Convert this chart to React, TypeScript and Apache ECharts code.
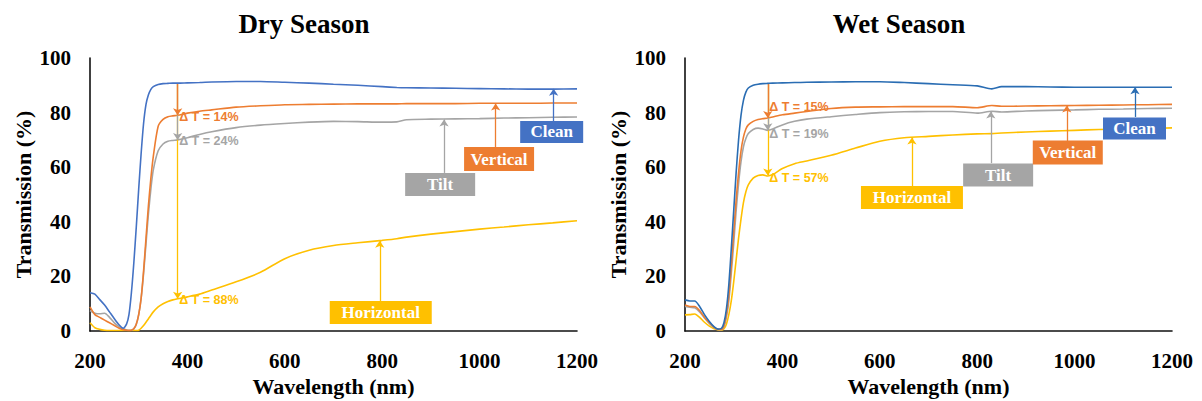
import React, { useEffect, useRef } from "react";
import * as echarts from "echarts";

// ---------- DATA ----------
const wavelengths = [200, 210, 220, 230, 240, 250, 260, 268, 275, 280, 285, 290, 295, 300, 305, 310, 315, 320, 325, 330, 340, 350, 360, 370, 380, 400, 425, 450, 500, 550, 600, 650, 700, 750, 800, 830, 850, 900, 950, 1000, 1050, 1100, 1150, 1200];

const dryClean = [14, 13.5, 11.5, 9.5, 7, 4.5, 2.2, 1.0, 2.5, 6, 14, 25, 38, 52, 65, 76, 83, 86.5, 88.5, 89.5, 90.3, 90.6, 90.7, 90.8, 90.8, 90.9, 91, 91.2, 91.4, 91.4, 91.1, 90.8, 90.4, 90, 89.5, 89.2, 89.1, 89, 88.9, 88.8, 88.7, 88.6, 88.6, 88.7];
const dryVertical = [8.8, 6, 5, 4, 3, 2, 1, 0.5, 0.3, 0.2, 0.3, 0.8, 2.5, 6, 12, 22, 34, 46, 56, 64, 75, 77.5, 78.5, 78.8, 79, 79.8, 80.5, 81, 82, 82.5, 82.9, 83, 83.1, 83.2, 83.2, 83.2, 83.3, 83.3, 83.3, 83.4, 83.4, 83.4, 83.5, 83.5];
const dryTilt = [7.5, 6.5, 6.3, 6.5, 5, 3, 1.5, 0.8, 0.4, 0.3, 0.3, 0.8, 2.5, 6, 12, 21, 32, 43, 52, 59, 66, 68.5, 69.5, 69.8, 70, 70.8, 72, 73, 74.5, 75.4, 76, 76.5, 76.8, 76.7, 76.5, 76.6, 77.4, 77.6, 77.7, 77.8, 78, 78.1, 78.3, 78.4];
const dryHorizontal = [3, 1.2, 0.6, 0.3, 0.2, 0.2, 0.2, 0.2, 0.2, 0.2, 0.2, 0.2, 0.2, 0.3, 1, 2, 3.2, 4.5, 5.8, 7, 8.8, 10, 10.8, 11.4, 11.8, 12.5, 13.5, 15, 18, 21.5, 26.5, 29.6, 31.3, 32.3, 33.2, 33.8, 34.4, 35.5, 36.4, 37.3, 38.1, 38.9, 39.6, 40.4];

const wetClean = [11.4, 11, 11, 9, 6, 3.5, 1.5, 0.7, 1, 3, 8, 17, 30, 44, 58, 70, 79, 84.5, 87.5, 89, 90, 90.4, 90.6, 90.7, 90.8, 90.9, 91, 91.1, 91.2, 91.3, 91.3, 91, 90.6, 90.2, 89.8, 88.7, 89.5, 89.5, 89.4, 89.3, 89.3, 89.3, 89.3, 89.3];
const wetVertical = [9.5, 9, 9, 7.5, 5, 3, 1.3, 0.6, 0.6, 2, 6, 13, 24, 36, 48, 58, 66, 71, 74, 75.5, 76.8, 77.5, 77.8, 78, 78.4, 79.2, 79.8, 80.4, 81.5, 82, 82.1, 82.2, 82.2, 82.2, 81.8, 82.6, 82.3, 82.4, 82.5, 82.6, 82.7, 82.8, 82.9, 83];
const wetTilt = [9, 8.7, 8.5, 7, 4.8, 2.8, 1.2, 0.5, 0.5, 1.6, 5, 11, 21, 32, 44, 54, 62, 67.5, 70.5, 72.3, 73.8, 74.3, 74, 73.5, 74, 75.5, 76.8, 77.6, 78.5, 79.3, 80, 80.3, 80.4, 80.4, 79.8, 80.5, 80.2, 80.6, 80.8, 81, 81.2, 81.3, 81.5, 81.6];
const wetHorizontal = [5.9, 6, 6.2, 5, 3.2, 1.8, 0.8, 0.4, 0.3, 0.8, 2.5, 6, 11, 18, 26, 34, 41, 47, 51, 53.5, 56, 57, 57.2, 56.8, 57.3, 59.5, 61.3, 62.3, 64.4, 67, 69.5, 70.8, 71.3, 71.8, 72.2, 72.3, 72.5, 72.9, 73.2, 73.5, 73.8, 74, 74.2, 74.4];

const xTicks = [200, 400, 600, 800, 1000, 1200];
const yTicks = [0, 20, 40, 60, 80, 100];
const seriesNames = ["Clean", "Vertical", "Tilt", "Horizontal"];
const seasonTitles = ["Dry Season", "Wet Season"];

// Delta-T annotations (wavelength, top level, end levels per series)
const dryDeltaAt = 380;
const dryDeltaTop = 90.8;
const dryDeltaEnds = [79, 70, 11.8]; // Vertical, Tilt, Horizontal
const dryDeltaTexts = ["Δ T = 14%", "Δ T = 24%", "Δ T = 88%"];
const dryDeltaTextLevels = [78.4, 69.6, 11.4];

const wetDeltaAt = 370;
const wetDeltaTop = 90.7;
const wetDeltaEnds = [78, 73.5, 57];
const wetDeltaTexts = ["Δ T = 15%", "Δ T = 19%", "Δ T = 57%"];
const wetDeltaTextLevels = [82, 72.2, 56];

// Callouts: [boxX, boxY, arrowX, arrowFrom, arrowTo] per series (Clean, Vertical, Tilt, Horizontal)
const dryCallouts = [
  [1148, 72.9, 1152, 76.9, 88.7],
  [1040, 63.0, 1033, 67.4, 83.3],
  [919, 53.7, 927, 57.9, 77.5],
  [797, 6.8, 795, 11, 33.1],
];
const wetCallouts = [
  [1123, 74.2, 1124, 78.4, 89.3],
  [986, 65.4, 984, 69.6, 82.6],
  [843, 57.1, 828, 61.5, 80.4],
  [666, 48.9, 666, 53.1, 70.9],
];

// ---------- STYLE ----------
const dryColors = ["#4472C4", "#ED7D31", "#A5A5A5", "#FFC000"];
const wetColors = ["#2A6DB3", "#ED7D31", "#A5A5A5", "#FFC000"];
const boxColors = ["#4472C4", "#ED7D31", "#A5A5A5", "#FFC000"];
const boxSizes = [[63, 22], [70, 24], [70, 23], [102, 23]];
const SERIF = "Liberation Serif";
const SANS = "Liberation Sans";

function buildSeason(idx: number) {
  const values = idx === 0 ? [dryClean, dryVertical, dryTilt, dryHorizontal] : [wetClean, wetVertical, wetTilt, wetHorizontal];
  const colors = idx === 0 ? dryColors : wetColors;
  const callouts = idx === 0 ? dryCallouts : wetCallouts;
  const dAt = idx === 0 ? dryDeltaAt : wetDeltaAt;
  const dTop = idx === 0 ? dryDeltaTop : wetDeltaTop;
  const dEnds = idx === 0 ? dryDeltaEnds : wetDeltaEnds;
  const dTexts = idx === 0 ? dryDeltaTexts : wetDeltaTexts;
  const dLevels = idx === 0 ? dryDeltaTextLevels : wetDeltaTextLevels;

  const order = [3, 2, 1, 0];
  return order.map((s) => {
    const c = callouts[s];
    const markLineData: any[] = [
      [{ coord: [c[2], c[3]] }, { coord: [c[2], c[4]] }],
    ];
    const markPointData: any[] = [
      {
        name: seriesNames[s],
        coord: [c[0], c[1]],
        symbol: "rect",
        symbolSize: boxSizes[s],
        itemStyle: { color: boxColors[s] },
        label: {
          show: true,
          position: "inside",
          formatter: seriesNames[s],
          color: "#fff",
          fontFamily: SERIF,
          fontWeight: "bold",
          fontSize: 17,
        },
      },
    ];
    if (s > 0) {
      markLineData.push([{ coord: [dAt, dTop] }, { coord: [dAt, dEnds[s - 1]] }]);
      markPointData.push({
        name: dTexts[s - 1],
        coord: [dAt, dLevels[s - 1]],
        symbol: "circle",
        symbolSize: 1,
        itemStyle: { color: "rgba(0,0,0,0)" },
        label: {
          show: true,
          position: "right",
          distance: 1,
          formatter: dTexts[s - 1],
          color: colors[s],
          fontFamily: SANS,
          fontWeight: "bold",
          fontSize: 12.5,
        },
      });
    }
    return {
      type: "line",
      name: seriesNames[s],
      xAxisIndex: idx,
      yAxisIndex: idx,
      data: wavelengths.map((w, i) => [w, values[s][i]]),
      showSymbol: false,
      smooth: 0.25,
      lineStyle: { color: colors[s], width: 1.6 },
      itemStyle: { color: colors[s] },
      z: 2 + (3 - s),
      markLine: {
        silent: true,
        symbol: ["none", "arrow"],
        symbolSize: 7,
        label: { show: false },
        lineStyle: { color: colors[s], width: 1.3, type: "solid" },
        emphasis: { disabled: true },
        data: markLineData,
      },
      markPoint: {
        silent: true,
        emphasis: { disabled: true },
        data: markPointData,
      },
    };
  });
}

function axisPair(idx: number) {
  const x = {
    type: "value",
    gridIndex: idx,
    min: xTicks[0],
    max: xTicks[xTicks.length - 1],
    interval: xTicks[1] - xTicks[0],
    name: "Wavelength (nm)",
    nameLocation: "middle",
    nameGap: 42,
    nameTextStyle: { fontFamily: SERIF, fontWeight: "bold", fontSize: 22, color: "#000" },
    axisLine: { show: true, onZero: false, lineStyle: { color: "#111", width: 1.6 } },
    axisTick: { show: false },
    splitLine: { show: false },
    axisLabel: {
      fontFamily: SERIF,
      fontWeight: "bold",
      fontSize: 21,
      color: "#000",
      margin: 19,
      formatter: (v: number) => String(v),
    },
  };
  const y = {
    type: "value",
    gridIndex: idx,
    min: yTicks[0],
    max: yTicks[yTicks.length - 1],
    interval: yTicks[1] - yTicks[0],
    name: "Transmission (%)",
    nameLocation: "middle",
    nameGap: 56,
    nameTextStyle: { fontFamily: SERIF, fontWeight: "bold", fontSize: 22, color: "#000" },
    axisLine: { show: true, lineStyle: { color: "#111", width: 1.6 } },
    axisTick: { show: false },
    splitLine: { show: false },
    axisLabel: {
      fontFamily: SERIF,
      fontWeight: "bold",
      fontSize: 21,
      color: "#000",
      margin: 19,
      formatter: (v: number) => String(v),
    },
  };
  return { x, y };
}

export default function App() {
  const ref = useRef<HTMLDivElement>(null);
  useEffect(() => {
    if (!ref.current) return;
    const chart = echarts.init(ref.current, undefined, { renderer: "svg" });
    const a0 = axisPair(0);
    const a1 = axisPair(1);
    chart.setOption({
      animation: false,
      backgroundColor: "#fff",
      textStyle: { fontFamily: SERIF },
      grid: [
        { left: 90, top: 58, width: 487, height: 273, containLabel: false, outerBoundsMode: "none" },
        { left: 685, top: 58, width: 487, height: 273, containLabel: false, outerBoundsMode: "none" },
      ],
      xAxis: [a0.x, a1.x],
      yAxis: [a0.y, a1.y],
      graphic: [
        {
          type: "text",
          x: 304,
          y: 24,
          style: { text: seasonTitles[0], textAlign: "center", textVerticalAlign: "middle", fontFamily: SERIF, fontWeight: "bold", fontSize: 27, fill: "#000" },
        },
        {
          type: "text",
          x: 899,
          y: 24,
          style: { text: seasonTitles[1], textAlign: "center", textVerticalAlign: "middle", fontFamily: SERIF, fontWeight: "bold", fontSize: 27, fill: "#000" },
        },
      ],
      series: [...buildSeason(0), ...buildSeason(1)],
    });
    return () => chart.dispose();
  }, []);
  return <div ref={ref} style={{ position: "fixed", left: 0, top: 0, width: 1202, height: 401, background: "#fff" }} />;
}
